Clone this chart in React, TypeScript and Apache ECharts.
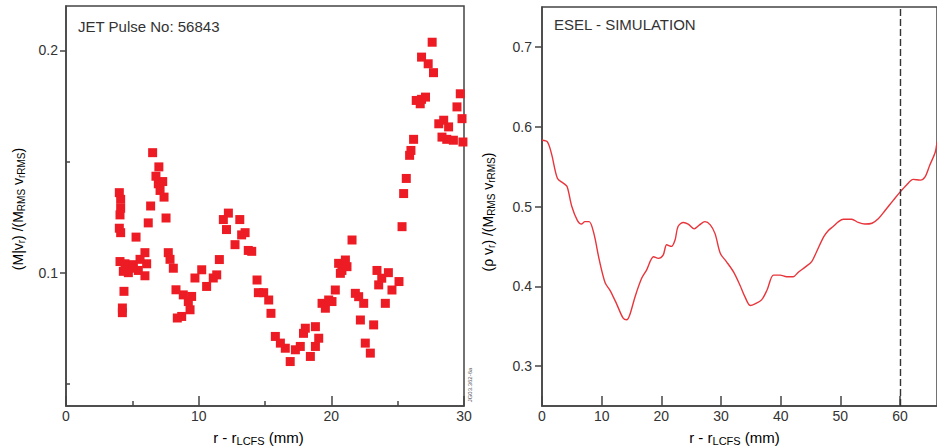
import React, { useEffect, useRef } from 'react';
import * as echarts from 'echarts';

// JET pulse 56843 measurement (left panel)
const pulseX = [
  4.02, 4.12, 4.12, 4.07, 4.02, 4.12, 5.28, 4.07, 4.45, 4.82, 4.32, 4.70, 5.08, 5.58, 5.95, 5.45, 5.95, 6.08,
  4.37, 4.25, 4.25, 6.2, 6.38, 6.53, 7.0, 6.78, 6.96, 7.29, 7.09, 7.39, 7.54, 7.71, 7.84, 8.09, 8.29, 8.39,
  8.72, 8.84, 9.22, 9.47, 9.35, 9.72, 10.23, 10.6, 11.1, 11.36, 11.56, 11.86, 12.24, 12.1, 13.1, 12.74, 13.24,
  13.5, 13.74, 14.0, 14.4, 14.5, 14.9, 15.28, 15.45, 15.78, 16.16, 16.53, 16.9, 17.29, 17.66, 17.9, 18.04,
  18.42, 18.8, 19.05, 18.8, 19.3, 19.55, 19.8, 20.05, 20.3, 20.55, 20.8, 21.06, 21.18, 20.68, 21.56, 21.81,
  22.06, 22.44, 22.19, 22.56, 22.94, 23.19, 23.44, 23.57, 23.8, 24.07, 24.3, 24.57, 25.1, 25.33, 25.45, 25.65,
  25.9, 26.0, 26.2, 26.4, 26.7, 26.8, 27.1, 26.8, 27.3, 27.6, 27.7, 28.1, 28.47, 28.84, 28.34, 28.7, 29.2,
  29.47, 29.72, 29.85, 29.92
];
const pulseY = [
  0.136, 0.133, 0.129, 0.126, 0.120, 0.118, 0.116, 0.105, 0.104, 0.102, 0.1006, 0.100, 0.1036, 0.106, 0.109, 0.101, 0.0986, 0.104,
  0.0916, 0.0841, 0.082, 0.1224, 0.130, 0.154, 0.1476, 0.1434, 0.140, 0.141, 0.137, 0.134, 0.1246, 0.109, 0.106, 0.102, 0.0923, 0.0796,
  0.0803, 0.090, 0.087, 0.0893, 0.0833, 0.0976, 0.1013, 0.0938, 0.0976, 0.099, 0.1059, 0.1239, 0.1268, 0.1194, 0.1239, 0.1126, 0.117,
  0.118, 0.110, 0.1096, 0.0967, 0.091, 0.091, 0.0877, 0.0817, 0.0713, 0.0683, 0.066, 0.060, 0.0653, 0.0668, 0.0727, 0.075,
  0.0623, 0.0757, 0.0705, 0.0668, 0.0862, 0.084, 0.0877, 0.087, 0.0922, 0.1042, 0.101, 0.1057, 0.1027, 0.0997, 0.1147, 0.0907,
  0.0892, 0.0862, 0.0787, 0.0683, 0.0638, 0.0765, 0.101, 0.0945, 0.0975, 0.0862, 0.100, 0.0922, 0.096, 0.1207, 0.1356, 0.1424,
  0.1528, 0.155, 0.160, 0.1775, 0.176, 0.178, 0.179, 0.197, 0.194, 0.2037, 0.190, 0.167, 0.1686, 0.1656, 0.161, 0.160, 0.1596,
  0.1746, 0.1805, 0.1693, 0.1588
];

// ESEL simulation (right panel)
const simX = [
  0, 0.9, 1.6, 2.6, 3.6, 4.2, 5.0, 5.9, 6.6, 7.2, 7.9, 8.7, 9.6, 10.6, 11.4, 12.5, 13.6, 14.2, 14.7, 15.6, 16.7,
  17.5, 18.7, 19.5, 20.3, 20.9, 21.7, 22.3, 22.8, 23.7, 24.5, 25.5, 26.4, 27.3, 28.2, 29.0, 29.9, 30.9, 32.1,
  33.2, 34.0, 34.9, 35.7, 36.8, 37.7, 38.8, 39.9, 41.0, 42.1, 43.0, 44.1, 45.2, 46.0, 47.2, 48.0, 48.8, 49.7,
  50.5, 51.9, 53.0, 54.1, 55.3, 56.4, 57.5, 58.9, 60.0, 61.1, 62.2, 63.4, 64.2, 65.0, 65.9, 66.2
];
const simY = [
  0.583, 0.581, 0.566, 0.535, 0.529, 0.525, 0.500, 0.483, 0.478, 0.481, 0.481, 0.466, 0.433, 0.404, 0.395, 0.378, 0.360, 0.358, 0.364, 0.387, 0.410,
  0.420, 0.437, 0.435, 0.439, 0.452, 0.450, 0.458, 0.475, 0.480, 0.478, 0.472, 0.477, 0.481, 0.477, 0.466, 0.441, 0.431, 0.418,
  0.401, 0.387, 0.376, 0.378, 0.383, 0.395, 0.414, 0.414, 0.412, 0.412, 0.418, 0.424, 0.431, 0.443, 0.462, 0.470, 0.475, 0.481,
  0.484, 0.484, 0.480, 0.478, 0.479, 0.485, 0.495, 0.508, 0.518, 0.527, 0.534, 0.533, 0.537, 0.552, 0.568, 0.581
];

const leftXTicks = [0, 10, 20, 30];
const leftXMinor = [5, 15, 25];
const leftYLabels = [0.1, 0.2];
const leftYMinor = [0.05, 0.15];
const rightXTicks = [0, 10, 20, 30, 40, 50, 60];
const rightYTicks = [0.3, 0.4, 0.5, 0.6, 0.7];
const separatrixX = 60;

const FONT = '"Liberation Sans", Arial, Helvetica, sans-serif';
const INK = '#333';
const AXIS = '#444';

export default function App() {
  const ref = useRef<HTMLDivElement>(null);
  useEffect(() => {
    const chart = echarts.init(ref.current!, null, { renderer: 'svg' });
    const axisLine = { show: true, lineStyle: { color: AXIS, width: 1.5 } };
    const tickStyle = { color: AXIS, width: 1.5 };
    const label = { fontSize: 14, color: INK, fontFamily: FONT };
    const subRich = (size: number, pad: number) => ({
      main: { fontSize: size, fontFamily: FONT, color: INK },
      sub: { fontSize: Math.round(size * 0.72), fontFamily: FONT, color: INK, padding: [pad, 0, 0, 0] },
    });
    chart.setOption({
      animation: false,
      backgroundColor: '#fff',
      grid: [
        { left: 66, top: 6, width: 398, height: 400, show: true, borderColor: AXIS, borderWidth: 1.5 },
        { left: 542, top: 7, width: 395, height: 399, show: true, borderColor: AXIS, borderWidth: 1.5 },
      ],
      xAxis: [
        {
          gridIndex: 0, type: 'value', min: 0, max: 30, interval: 10,
          axisLine, splitLine: { show: false },
          axisTick: { inside: true, length: 10, customValues: leftXTicks, lineStyle: tickStyle },
          axisLabel: { ...label, margin: 3, customValues: leftXTicks },
        },
        {
          gridIndex: 1, type: 'value', min: 0, max: 66.2, interval: 10,
          axisLine, splitLine: { show: false },
          axisTick: { inside: true, length: 10, customValues: rightXTicks, lineStyle: tickStyle },
          axisLabel: { ...label, margin: 3, customValues: rightXTicks },
        },
        {
          gridIndex: 0, type: 'value', position: 'bottom', min: 0, max: 30,
          axisLine: { show: false }, splitLine: { show: false },
          axisTick: { show: true, inside: true, length: 5, customValues: leftXMinor, lineStyle: tickStyle },
          axisLabel: { show: false },
        },
      ],
      yAxis: [
        {
          gridIndex: 0, type: 'value', min: 0.04, max: 0.22,
          axisLine, splitLine: { show: false },
          axisTick: { show: true, length: 6, customValues: leftYLabels, lineStyle: tickStyle },
          axisLabel: { ...label, margin: 8, customValues: leftYLabels, formatter: (v: number) => v.toFixed(1) },
        },
        {
          gridIndex: 0, type: 'value', position: 'left', min: 0.04, max: 0.22,
          axisLine: { show: false }, splitLine: { show: false },
          axisTick: { show: true, inside: true, length: 4, customValues: leftYMinor, lineStyle: tickStyle },
          axisLabel: { show: false },
        },
        {
          gridIndex: 1, type: 'value', min: 0.25, max: 0.75,
          axisLine, splitLine: { show: false },
          axisTick: { show: true, length: 7, customValues: rightYTicks, lineStyle: tickStyle },
          axisLabel: { ...label, margin: 10, customValues: rightYTicks, formatter: (v: number) => v.toFixed(1) },
        },
      ],
      series: [
        {
          type: 'scatter', xAxisIndex: 0, yAxisIndex: 0,
          symbol: 'rect', symbolSize: 9, clip: true,
          itemStyle: { color: '#ed1c24', opacity: 1 },
          data: pulseX.map((x, i) => [x, pulseY[i]]),
        },
        {
          type: 'line', xAxisIndex: 1, yAxisIndex: 2,
          showSymbol: false, smooth: 0.3, clip: true,
          lineStyle: { color: '#e8353b', width: 1.4 },
          data: simX.map((x, i) => [x, simY[i]]),
          markLine: {
            silent: true, symbol: ['none', 'none'], label: { show: false },
            lineStyle: { color: '#333', type: [7, 3], width: 1.4 },
            data: [{ xAxis: separatrixX }],
          },
        },
      ],
      graphic: [
        { type: 'text', x: 78, y: 26, style: { text: 'JET Pulse No: 56843', fontSize: 15, fontFamily: FONT, fill: INK, verticalAlign: 'middle' } },
        { type: 'text', x: 554, y: 24, style: { text: 'ESEL - SIMULATION', fontSize: 15, fontFamily: FONT, fill: INK, verticalAlign: 'middle' } },
        {
          type: 'text', x: 258.5, y: 437,
          style: { text: '{main|r - r}{sub|LCFS}{main| (mm)}', rich: subRich(15, 8), align: 'center', verticalAlign: 'middle' },
        },
        {
          type: 'text', x: 734.5, y: 437,
          style: { text: '{main|r - r}{sub|LCFS}{main| (mm)}', rich: subRich(15, 8), align: 'center', verticalAlign: 'middle' },
        },
        {
          type: 'text', x: 18, y: 209, rotation: Math.PI / 2,
          style: { text: '{main|(M|v}{sub|r}{main|) /(M}{sub|RMS}{main| v}{sub|rRMS}{main|)}', rich: subRich(14, 7), align: 'center', verticalAlign: 'middle' },
        },
        {
          type: 'text', x: 488, y: 212, rotation: Math.PI / 2,
          style: { text: '{main|(ρ v}{sub|r}{main|) /(M}{sub|RMS}{main| v}{sub|rRMS}{main|)}', rich: subRich(14, 7), align: 'center', verticalAlign: 'middle' },
        },
        {
          type: 'text', x: 470, y: 385, rotation: Math.PI / 2,
          style: { text: 'JG03.362-6a', fontSize: 6, fontFamily: FONT, fill: '#555', align: 'center', verticalAlign: 'middle' },
        },
      ],
    });
    return () => chart.dispose();
  }, []);
  return (
    <div
      ref={ref}
      style={{ position: 'fixed', left: 0, top: 0, width: 937, height: 448, background: '#fff' }}
    />
  );
}
